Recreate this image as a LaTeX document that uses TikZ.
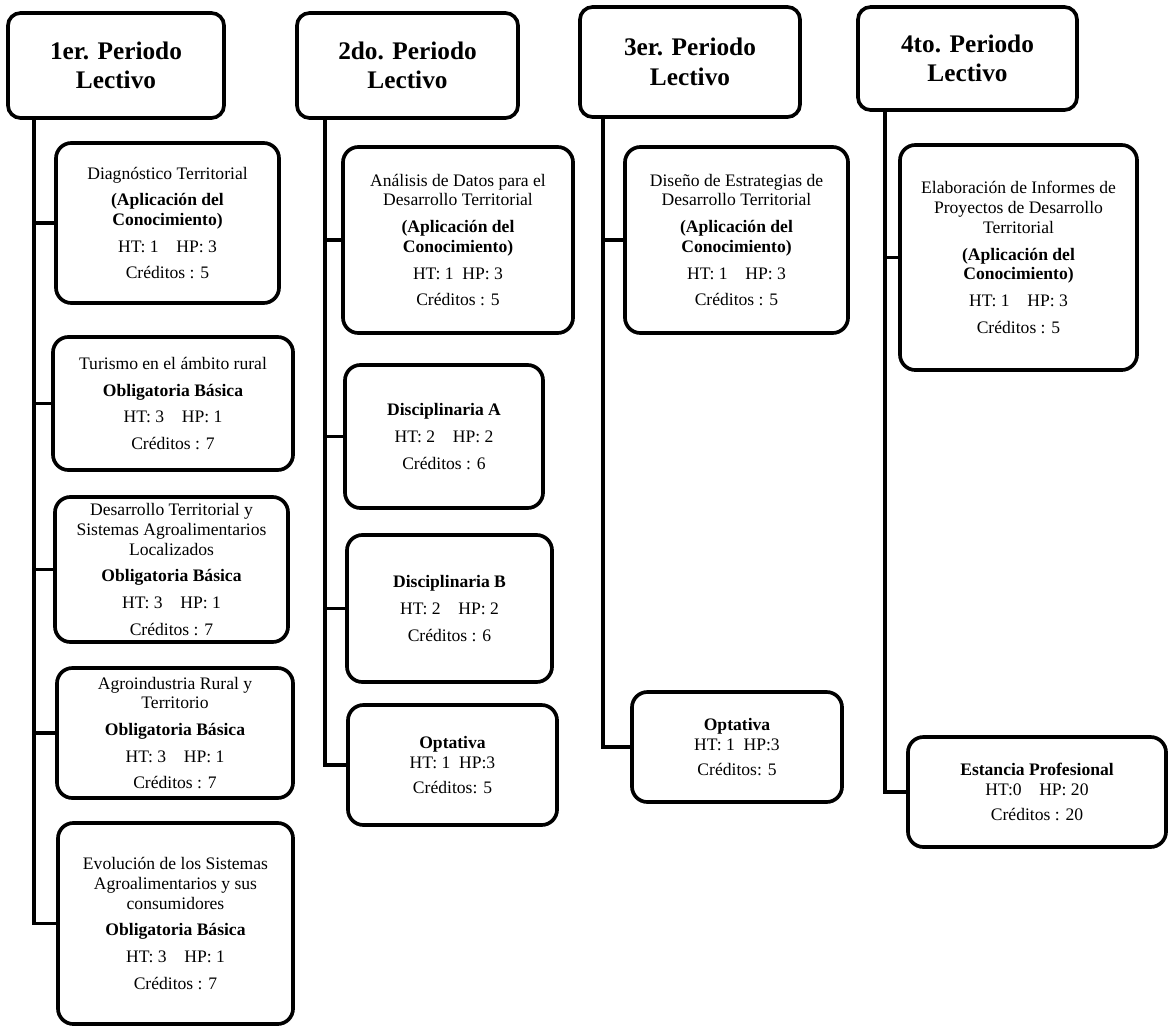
\documentclass[tikz,border=0pt]{standalone}
\usepackage{fontspec}
\setmainfont{Liberation Serif}
\begin{document}
\begin{tikzpicture}[x=0.025cm, y=-0.025cm,
    periodo/.style={draw, line width=2.6pt, rounded corners=9pt, align=center, inner sep=0pt,
      font=\fontsize{18}{21}\selectfont\bfseries},
    curso/.style={draw, line width=2.6pt, rounded corners=11pt, align=center, inner sep=0pt,
      font=\fontsize{12.5}{14}\selectfont},
    linea/.style={line width=2.6pt}]
    \useasboundingbox (0,0) rectangle (1169,1026);

    \node[periodo, minimum width=5.4cm, minimum height=2.625cm] (p1) at (116,65.5) {1er. Periodo\\Lectivo};
    \node[periodo, minimum width=5.525cm, minimum height=2.625cm] (p2) at (407.5,65.5) {2do. Periodo\\Lectivo};
    \node[periodo, minimum width=5.5cm, minimum height=2.75cm] (p3) at (690,62) {3er. Periodo\\Lectivo};
    \node[periodo, minimum width=5.475cm, minimum height=2.575cm] (p4) at (967.5,58.5) {4to. Periodo\\Lectivo};

    \node[curso, minimum width=5.575cm, minimum height=4cm] (c1a) at (167.5,223) {Diagnóstico Territorial\\[5pt]\textbf{(Aplicación del}\\\textbf{Conocimiento)}\\[5pt]HT: 1\quad HP: 3\\[5pt]Créditos : 5};
    \node[curso, minimum width=6cm, minimum height=3.325cm] (c1b) at (173,403.5) {Turismo en el ámbito rural\\[5pt]\textbf{Obligatoria Básica}\\[5pt]HT: 3\quad HP: 1\\[5pt]Créditos : 7};
    \node[curso, minimum width=5.825cm, minimum height=3.625cm] (c1c) at (171.5,569.5) {Desarrollo Territorial y\\Sistemas Agroalimentarios\\Localizados\\[5pt]\textbf{Obligatoria Básica}\\[5pt]HT: 3\quad HP: 1\\[5pt]Créditos : 7};
    \node[curso, minimum width=5.9cm, minimum height=3.25cm] (c1d) at (175,733) {Agroindustria Rural y\\Territorio\\[5pt]\textbf{Obligatoria Básica}\\[5pt]HT: 3\quad HP: 1\\[5pt]Créditos : 7};
    \node[curso, minimum width=5.875cm, minimum height=5.025cm] (c1e) at (175.5,923.5) {Evolución de los Sistemas\\Agroalimentarios y sus\\consumidores\\[5pt]\textbf{Obligatoria Básica}\\[5pt]HT: 3\quad HP: 1\\[5pt]Créditos : 7};

    \node[curso, minimum width=5.75cm, minimum height=4.65cm] (c2a) at (458,240) {Análisis de Datos para el\\Desarrollo Territorial\\[5pt]\textbf{(Aplicación del}\\\textbf{Conocimiento)}\\[5pt]HT: 1\enspace HP: 3\\[5pt]Créditos : 5};
    \node[curso, minimum width=4.95cm, minimum height=3.575cm] (c2b) at (444,436.5) {\textbf{Disciplinaria A}\\[5pt]HT: 2\quad HP: 2\\[5pt]Créditos : 6};
    \node[curso, minimum width=5.125cm, minimum height=3.675cm] (c2c) at (449.5,608.5) {\textbf{Disciplinaria B}\\[5pt]HT: 2\quad HP: 2\\[5pt]Créditos : 6};
    \node[curso, minimum width=5.225cm, minimum height=3cm] (c2d) at (452.5,765) {\textbf{Optativa}\\HT: 1\enspace HP:3\\[4pt]Créditos: 5};

    \node[curso, minimum width=5.575cm, minimum height=4.65cm] (c3a) at (736.5,240) {Diseño de Estrategias de\\Desarrollo Territorial\\[5pt]\textbf{(Aplicación del}\\\textbf{Conocimiento)}\\[5pt]HT: 1\quad HP: 3\\[5pt]Créditos : 5};
    \node[curso, minimum width=5.25cm, minimum height=2.75cm] (c3b) at (737,747) {\textbf{Optativa}\\HT: 1\enspace HP:3\\[4pt]Créditos: 5};

    \node[curso, minimum width=5.925cm, minimum height=5.625cm] (c4a) at (1018.5,257.5) {Elaboración de Informes de\\Proyectos de Desarrollo\\Territorial\\[5pt]\textbf{(Aplicación del}\\\textbf{Conocimiento)}\\[5pt]HT: 1\quad HP: 3\\[5pt]Créditos : 5};
    \node[curso, minimum width=6.45cm, minimum height=2.75cm] (c4b) at (1037,792) {\textbf{Estancia Profesional}\\HT:0\quad HP: 20\\[4pt]Créditos : 20};

    \coordinate (l1) at (34,0);
    \coordinate (l2) at (325,0);
    \coordinate (l3) at (603,0);
    \coordinate (l4) at (885,0);

    \draw[linea] (p1.south -| l1) |- (c1e.west);
    \foreach \cur in {c1a,c1b,c1c,c1d}
        \draw[linea] (l1 |- \cur.west) -- (\cur.west);
    \draw[linea] (p2.south -| l2) |- (c2d.west);
    \foreach \cur in {c2a,c2b,c2c}
        \draw[linea] (l2 |- \cur.west) -- (\cur.west);
    \draw[linea] (p3.south -| l3) |- (c3b.west);
    \draw[linea] (l3 |- c3a.west) -- (c3a.west);
    \draw[linea] (p4.south -| l4) |- (c4b.west);
    \draw[linea] (l4 |- c4a.west) -- (c4a.west);
\end{tikzpicture}
\end{document}
